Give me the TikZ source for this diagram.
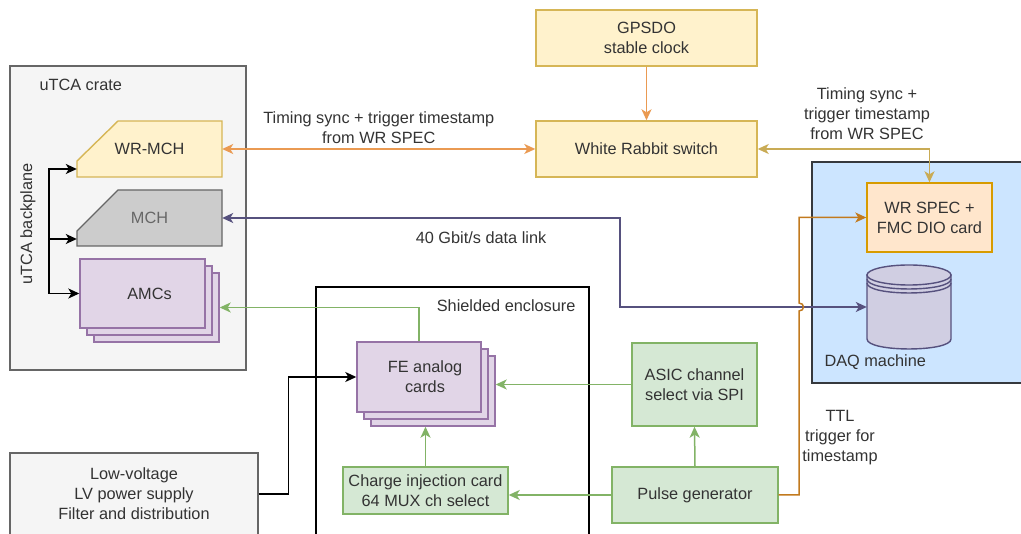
\documentclass[tikz,border=0pt]{standalone}
\usepackage{fontspec}
\setmainfont{Liberation Sans}
\usetikzlibrary{positioning,arrows.meta,shadows}

\definecolor{ink}{HTML}{333333}
\definecolor{panelfill}{HTML}{F5F5F5}
\definecolor{panelline}{HTML}{666666}
\definecolor{wrfill}{HTML}{FFF2CC}
\definecolor{wrline}{HTML}{D6B656}
\definecolor{mchfill}{HTML}{CCCCCC}
\definecolor{amcfill}{HTML}{E1D5E7}
\definecolor{amcline}{HTML}{9673A6}
\definecolor{grfill}{HTML}{D5E8D4}
\definecolor{grline}{HTML}{82B366}
\definecolor{specfill}{HTML}{FFE6CC}
\definecolor{specline}{HTML}{D79B00}
\definecolor{daqfill}{HTML}{CCE5FF}
\definecolor{daqline}{HTML}{36393D}
\definecolor{dbfill}{HTML}{D0CEE2}
\definecolor{dbline}{HTML}{56517E}
\definecolor{clockarr}{HTML}{EA9A52}
\definecolor{syncarr}{HTML}{C9AB55}
\definecolor{ttlarr}{HTML}{C27A1E}

\begin{document}
\begin{tikzpicture}[x=1pt,y=-1pt,
  every node/.style={font=\fontsize{16.3}{20}\selectfont,text=ink,align=center},
  panel/.style={fill=panelfill,draw=panelline,line width=1.4pt},
  wrbox/.style={fill=wrfill,draw=wrline,line width=1.4pt,inner sep=0pt},
  gbox/.style={fill=grfill,draw=grline,line width=1.4pt,inner sep=0pt},
  stackcopy/.style={shadow xshift=#1,shadow yshift=-#1,fill=amcfill,draw=amcline,line width=1.4pt},
  cards/.style={fill=amcfill,draw=amcline,line width=1.4pt,inner sep=0pt,
    copy shadow={stackcopy=14pt},copy shadow={stackcopy=7pt}},
  link/.style={-{Stealth[length=11pt,width=10pt,inset=3pt]},line width=1.5pt},
  twoway/.style={{Stealth[length=11pt,width=10pt,inset=3pt]}-{Stealth[length=11pt,width=10pt,inset=3pt]},line width=1.5pt}
 ]
  \clip (0,0) rectangle (1021,534);
  % uTCA crate
  \node[panel,minimum width=236pt,minimum height=304pt,inner sep=0pt] (crate) at (128,218) {};
  \node[anchor=west] (cratelbl) at (36,85) {uTCA crate};
  \node[rotate=90] (bplbl) at (28,224) {uTCA backplane};
  \filldraw[fill=wrfill,draw=wrline,line width=1.4pt]
    (118,121) -- (222,121) -- (222,177) -- (77,177) -- (77,161) -- cycle;
  \node[minimum width=145pt,minimum height=56pt,inner sep=0pt] (wrmch) at (149.5,149) {WR-MCH};
  \filldraw[fill=mchfill,draw=panelline,line width=1.4pt]
    (118,190) -- (222,190) -- (222,246) -- (77,246) -- (77,231) -- cycle;
  \node[minimum width=145pt,minimum height=56pt,inner sep=0pt,text=panelline] (mch) at (149.5,218) {MCH};
  \node[cards,minimum width=125pt,minimum height=69pt] (amc) at (142.5,293.5) {\hspace*{14pt}AMCs};

  % timing
  \node[wrbox,minimum width=221pt,minimum height=56pt] (gps) at (646.5,38) {GPSDO\\stable clock};
  \node[wrbox,minimum width=221pt,minimum height=56pt] (wrs) at (646.5,149) {White Rabbit switch};

  % DAQ
  \fill[daqfill] (812,162) rectangle (1030,383);
  \draw[daqline,line width=1.4pt] (1030,162) -- (812,162) -- (812,383) -- (1030,383);
  \node[fill=specfill,draw=specline,line width=1.4pt,minimum width=125pt,minimum height=69pt,inner sep=0pt]
    (spec) at (929.5,217.5) {WR SPEC +\\FMC DIO card};
  \filldraw[fill=dbfill,draw=dbline,line width=1.4pt]
    (867,275) -- (867,339) .. controls (867,352.3) and (951,352.3) .. (951,339) -- (951,275) -- cycle;
  \filldraw[fill=dbfill,draw=dbline,line width=1.4pt] (909,275) ellipse [x radius=42,y radius=10];
  \draw[dbline,line width=1.4pt] (867,279) .. controls (867,292.3) and (951,292.3) .. (951,279);
  \draw[dbline,line width=1.4pt] (867,283) .. controls (867,296.3) and (951,296.3) .. (951,283);
  \node[minimum width=84pt,minimum height=84pt,inner sep=0pt] (cyl) at (909,307) {};
  \node[anchor=west] (daqlbl) at (821,362) {DAQ machine};

  % shielded enclosure
  \filldraw[fill=white,draw=black,line width=1.4pt] (316,545) -- (316,287) -- (589,287) -- (589,545);
  \node[anchor=east] (shieldlbl) at (579,306) {Shielded enclosure};
  \node[cards,minimum width=124pt,minimum height=70pt] (fe) at (419,377)
    {\hspace*{12pt}FE analog\\\hspace*{12pt}cards};
  \node[gbox,minimum width=165pt,minimum height=47pt] (chg) at (425.5,490.5) {Charge injection card\\64 MUX ch select};
  \node[gbox,minimum width=125pt,minimum height=83pt] (asic) at (694.5,384.5) {ASIC channel\\select via SPI};
  \node[gbox,minimum width=166pt,minimum height=56pt] (pulse) at (695,495) {Pulse generator};
  \node[panel,minimum width=248pt,minimum height=82pt,inner sep=0pt] (lv) at (134,494)
    {Low-voltage\\LV power supply\\Filter and distribution};

  \coordinate (bp) at (49,239);
  \coordinate (fefoot) at ([yshift=-14pt]fe.south);
  \coordinate (feside) at ([xshift=14pt]fe.east);
  \coordinate (amcside) at ([xshift=14pt,yshift=-14pt]amc.east);

  % connectors
  \draw[link] (bp) |- ([yshift=-20pt]wrmch.west);
  \draw[link] (bp) -- (bp -| mch.west);
  \draw[link] (bp) |- (amc.west);
  \draw[link,clockarr] (gps) -- (wrs);
  \draw[twoway,clockarr] (wrmch) -- (wrs)
    node[midway,above=1pt] (synclbl) {Timing sync + trigger timestamp\\from WR SPEC};
  \draw[twoway,syncarr] (wrs.east) -| (spec.north);
  \node (speclbl) at (867,114) {Timing sync +\\trigger timestamp\\from WR SPEC};
  \draw[twoway,dbline] (mch.east) -| (620,307) -- (cyl.west);
  \node (datalbl) at (481,238) {40 Gbit/s data link};
  \draw[link,grline] (fe.north) |- (amcside);
  \draw[link,black] (lv.east) -- ++(30,0) |- (fe.west);
  \draw[link,grline] (chg.north) -- (chg.north |- fefoot);
  \draw[link,grline] (asic.west) -- (asic.west -| feside);
  \draw[link,grline] (pulse.north) -- (asic.south);
  \draw[link,grline] (pulse.west) -- (pulse.west -| chg.east);
  \draw[link,ttlarr] (pulse.east) -- (799,495) -- (799,311)
    .. controls (805,311) and (805,303) .. (799,303) -- (799,217.5) -- (spec.west);
  \node (ttllbl) at (840,438) {TTL\\trigger for\\timestamp};
\end{tikzpicture}
\end{document}
